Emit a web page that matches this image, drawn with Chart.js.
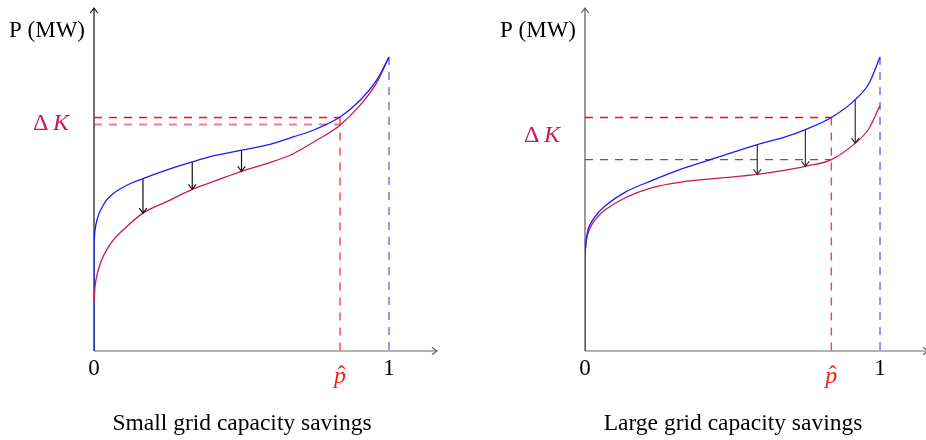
<!DOCTYPE html>
<html>
<head>
<meta charset="utf-8">
<script src="https://cdn.jsdelivr.net/npm/chart.js@4.4.1/dist/chart.umd.min.js"></script>
<style>
  html, body { margin: 0; padding: 0; width: 926px; height: 440px; overflow: hidden; background: #fff; }
  canvas { position: absolute; top: 0; }
  #small { left: 0; }
  #large { left: 491px; }
</style>
</head>
<body>
<canvas id="small" width="460" height="440"></canvas>
<canvas id="large" width="460" height="440"></canvas>
<script>
// share of time (0..1) and normalised power
const smallX      = [0, 0.0034, 0.0113, 0.0249, 0.0419, 0.0645, 0.110, 0.166, 0.245, 0.333, 0.415, 0.5, 0.585, 0.675, 0.755, 0.834, 0.902, 0.958, 1];
const smallBefore = [0.365, 0.410, 0.450, 0.484, 0.512, 0.535, 0.563, 0.586, 0.615, 0.643, 0.666, 0.683, 0.700, 0.728, 0.756, 0.796, 0.853, 0.921, 1];
const smallAfter  = [0.167, 0.218, 0.263, 0.308, 0.342, 0.376, 0.422, 0.469, 0.507, 0.550, 0.580, 0.611, 0.637, 0.671, 0.717, 0.768, 0.836, 0.912, 1];

const largeX      = [0, 0.0045, 0.0113, 0.025, 0.047, 0.070, 0.138, 0.228, 0.330, 0.454, 0.584, 0.679, 0.747, 0.835, 0.916, 0.962, 1];
const largeBefore = [0.331, 0.382, 0.416, 0.444, 0.473, 0.495, 0.541, 0.580, 0.620, 0.660, 0.702, 0.728, 0.753, 0.794, 0.855, 0.909, 1];
const largeAfter  = [0.331, 0.376, 0.404, 0.433, 0.461, 0.481, 0.522, 0.556, 0.575, 0.588, 0.601, 0.615, 0.628, 0.651, 0.707, 0.756, 0.836];

// p-hat and the two Delta K levels
const smallPHat = 0.834, smallKHigh = 0.794, smallKLow = 0.770;
const largePHat = 0.835, largeKHigh = 0.794, largeKLow = 0.651;

// arrows from the old curve down to the new one
const smallArrowX = [0.166, 0.333, 0.5];
const smallArrowFrom = [0.586, 0.643, 0.683];
const smallArrowTo = [0.469, 0.550, 0.611];
const largeArrowX = [0.584, 0.747, 0.916];
const largeArrowFrom = [0.702, 0.753, 0.855];
const largeArrowTo = [0.601, 0.628, 0.707];

const tickLabels = ['0', '1'];
const yLabel = 'P (MW)';

const BLUE = '#1a1aff';
const CRIMSON = '#c8195a';
const DASH = [8, 7];
const FONT = "'Liberation Serif', 'DejaVu Serif', serif";

function pts(xs, ys) { return xs.map((v, i) => ({x: v, y: ys[i]})); }

function arrowHead(ctx, x, y, dir) {
  // dir: 1 = pointing down, -1 = up
  ctx.beginPath();
  ctx.moveTo(x - 3.8, y - dir * 5);
  ctx.quadraticCurveTo(x - 1, y - dir * 1.5, x, y);
  ctx.quadraticCurveTo(x + 1, y - dir * 1.5, x + 3.8, y - dir * 5);
  ctx.stroke();
}

const decorations = {
  id: 'decorations',
  beforeDatasetsDraw(chart, args, o) {
    const {ctx, scales: {x, y}} = chart;
    const x0 = x.getPixelForValue(0), y0 = y.getPixelForValue(0);
    ctx.save();
    ctx.lineWidth = 1.2;
    // y axis
    ctx.strokeStyle = o.yAxisColor;
    ctx.beginPath(); ctx.moveTo(x0, y0); ctx.lineTo(x0, y.top + 1); ctx.stroke();
    arrowHead(ctx, x0, y.top + 1, -1);
    // x axis
    ctx.strokeStyle = '#666';
    ctx.beginPath(); ctx.moveTo(x0, y0); ctx.lineTo(x.right - 1, y0); ctx.stroke();
    ctx.beginPath();
    ctx.moveTo(x.right - 6, y0 - 3.8);
    ctx.quadraticCurveTo(x.right - 2.5, y0 - 1, x.right - 1, y0);
    ctx.quadraticCurveTo(x.right - 2.5, y0 + 1, x.right - 6, y0 + 3.8);
    ctx.stroke();
    ctx.restore();
  },
  afterDatasetsDraw(chart, args, o) {
    const {ctx, scales: {x, y}} = chart;
    const x0 = x.getPixelForValue(0);
    ctx.save();
    // arrows
    ctx.strokeStyle = o.arrowColor;
    ctx.lineWidth = 1.2;
    o.arrowX.forEach((v, i) => {
      const px = x.getPixelForValue(v);
      const a = y.getPixelForValue(o.arrowFrom[i]);
      const b = y.getPixelForValue(o.arrowTo[i]);
      ctx.beginPath(); ctx.moveTo(px, a); ctx.lineTo(px, b - 0.5); ctx.stroke();
      arrowHead(ctx, px, b, 1);
    });
    // texts
    ctx.fillStyle = '#000';
    ctx.font = '23px ' + FONT;
    ctx.textAlign = 'right';
    ctx.textBaseline = 'alphabetic';
    ctx.fillText(yLabel, x0 - 9, 37);
    ctx.textAlign = 'center';
    ctx.fillText(tickLabels[0], x0, 375);
    ctx.fillText(tickLabels[1], x.getPixelForValue(1), 375);
    // p hat
    const ph = x.getPixelForValue(o.pHat);
    ctx.fillStyle = '#ff1a1a';
    ctx.font = 'italic 24px ' + FONT;
    ctx.fillText('p', ph, 383);
    ctx.font = '24px ' + FONT;
    ctx.fillText('\u02C6', ph + 1.5, 382);
    // Delta K
    ctx.fillStyle = CRIMSON;
    ctx.textAlign = 'left';
    ctx.font = '24px ' + FONT;
    const kx = x0 - o.kRight;
    ctx.fillText('\u0394', kx, o.kBase);
    ctx.font = 'italic 24px ' + FONT;
    ctx.fillText('K', kx + 20, o.kBase);
    // caption
    ctx.fillStyle = '#000';
    ctx.textAlign = 'center';
    ctx.font = '23.5px ' + FONT;
    ctx.fillText(o.caption, x0 + 148, 430);
    ctx.restore();
  }
};

function makeChart(id, d) {
  const line = (data, color, width, dash) => ({
    data, borderColor: color, borderWidth: width, borderDash: dash || [],
    pointRadius: 0, fill: false, cubicInterpolationMode: dash ? 'default' : 'monotone', tension: 0
  });
  const last = d.before.length - 1;
  return new Chart(document.getElementById(id), {
    type: 'line',
    data: {
      datasets: [
        line(pts(d.x, d.before), BLUE, 1.3),
        line(pts(d.x, d.after), CRIMSON, 1.3),
        // old curve rises from the origin along the axis
        line([{x: d.x[0], y: 0}, {x: d.x[0], y: d.before[0]}], BLUE, 1.3),
        line([{x: 0, y: d.kHigh}, {x: d.pHat, y: d.kHigh}], '#ff0a0a', 1.6, DASH),
        line([{x: 0, y: d.kLow}, {x: d.pHat, y: d.kLow}], d.lowColor, d.lowWidth, DASH),
        line([{x: d.pHat, y: d.kHigh}, {x: d.pHat, y: 0}], 'rgba(255,30,30,0.85)', 1.4, DASH),
        line([{x: d.x[last], y: d.before[last]}, {x: d.x[last], y: 0}], 'rgba(50,50,255,0.8)', 1.3, DASH)
      ]
    },
    options: {
      responsive: false,
      animation: false,
      events: [],
      layout: {padding: {left: 94, right: 22, top: 7, bottom: 89}},
      scales: {
        x: {type: 'linear', min: 0, max: 1.166, display: false},
        y: {type: 'linear', min: 0, max: 1.17, display: false}
      },
      plugins: {
        legend: {display: false},
        tooltip: {enabled: false},
        decorations: {
          yAxisColor: d.yAxisColor, arrowColor: d.arrowColor,
          arrowX: d.arrowX, arrowFrom: d.arrowFrom, arrowTo: d.arrowTo,
          pHat: d.pHat, kRight: d.kRight, kBase: d.kBase, caption: d.caption
        }
      }
    },
    plugins: [decorations]
  });
}

makeChart('small', {
  x: smallX, before: smallBefore, after: smallAfter,
  pHat: smallPHat, kHigh: smallKHigh, kLow: smallKLow,
  lowColor: 'rgba(205,40,100,0.6)', lowWidth: 2,
  arrowX: smallArrowX, arrowFrom: smallArrowFrom, arrowTo: smallArrowTo,
  yAxisColor: '#111', arrowColor: '#111',
  kRight: 61, kBase: 130, caption: 'Small grid capacity savings'
});
makeChart('large', {
  x: largeX, before: largeBefore, after: largeAfter,
  pHat: largePHat, kHigh: largeKHigh, kLow: largeKLow,
  lowColor: 'rgba(170,30,85,0.9)', lowWidth: 1.4,
  arrowX: largeArrowX, arrowFrom: largeArrowFrom, arrowTo: largeArrowTo,
  yAxisColor: '#555', arrowColor: '#333',
  kRight: 61, kBase: 142, caption: 'Large grid capacity savings'
});
</script>
</body>
</html>
